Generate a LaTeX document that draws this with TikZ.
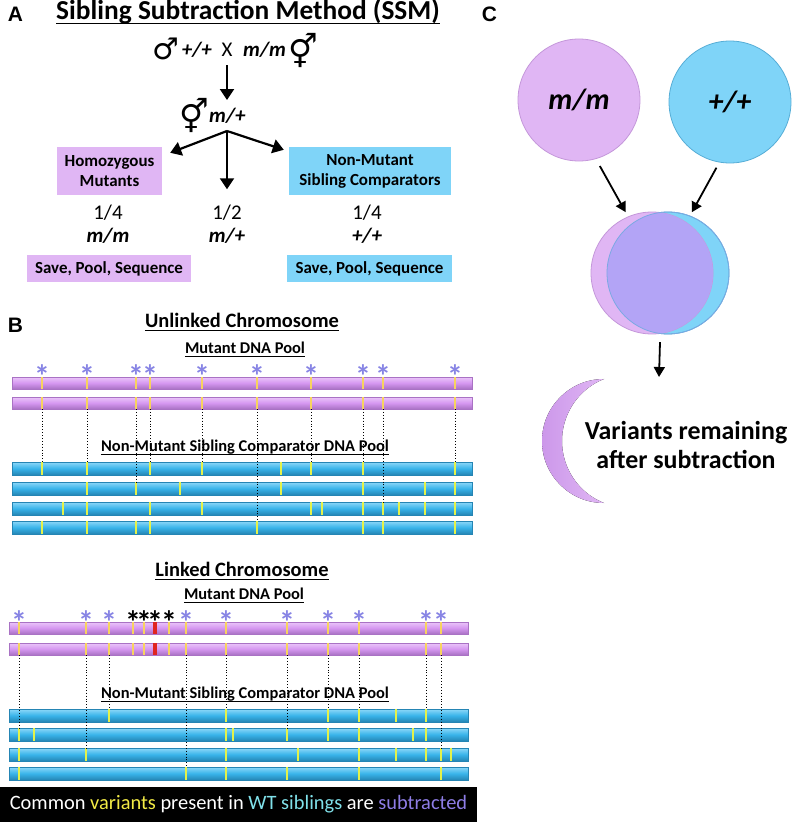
\documentclass[tikz,border=0pt]{standalone}
\usepackage{fontspec}
\setmainfont{Carlito}
\newfontfamily\labelfont{Liberation Sans}
\newfontfamily\sexfont{DejaVu Sans}
\usepackage{tikz}
\usetikzlibrary{arrows.meta,positioning}
\newcommand{\fsz}[2]{\fontsize{#1}{#2}\selectfont}

\definecolor{mutpink}{HTML}{E0B6F4}
\definecolor{mutedge}{HTML}{C497DA}
\definecolor{wtblue}{HTML}{7FD4F8}
\definecolor{wtedge}{HTML}{56ADD6}
\definecolor{barpinktop}{HTML}{EBC6FA}
\definecolor{barpink}{HTML}{D597F0}
\definecolor{barpinkbot}{HTML}{A972C4}
\definecolor{barbluetop}{HTML}{8ED8F8}
\definecolor{barblue}{HTML}{38B4EA}
\definecolor{barbluebot}{HTML}{2585B4}
\definecolor{varorange}{HTML}{F7D35E}
\definecolor{vargreen}{HTML}{E4F24A}
\definecolor{causal}{HTML}{E0251F}
\definecolor{starblue}{HTML}{8784E4}
\definecolor{overlap}{HTML}{B3A4F6}
\definecolor{crescdark}{HTML}{CC98EA}
\definecolor{bannery}{HTML}{F2EA45}
\definecolor{bannerc}{HTML}{80E1EA}
\definecolor{bannerp}{HTML}{8E7DE6}

\begin{document}
\begin{tikzpicture}[
                    x=1bp, y=-1bp,
                    panel label/.style={font=\labelfont\bfseries\fsz{21}{21}, inner sep=0},
                    head text/.style={anchor=base, inner sep=0, font=\bfseries\fsz{27.5}{27.5}},
                    sub head/.style={anchor=base, inner sep=0, font=\bfseries\fsz{20.5}{20.5}},
                    pool head/.style={anchor=base, inner sep=0, font=\bfseries\fsz{16.5}{16.5}},
                    under line/.style={line width=1.4bp},
                    gt text/.style={anchor=base, inner sep=0, font=\bfseries\itshape\fsz{21}{21}},
                    ratio text/.style={anchor=base, inner sep=0, font=\fsz{21}{21}},
                    sex sym/.style={inner sep=0, font=\sexfont\fsz{#1}{#1}},
                    mut box/.style={fill=mutpink, inner sep=0, align=center, font=\bfseries\fsz{17}{20}},
                    wt box/.style={fill=wtblue, inner sep=0, align=center, font=\bfseries\fsz{17}{20}},
                    big arrow/.style={line width=2.2bp, -{Triangle[length=11bp,width=14bp]}},
                    flow arrow/.style={line width=1.8bp, -{Triangle[length=10bp,width=11bp]}},
                    mut bar/.style={draw=barpinkbot, line width=0.5bp, top color=barpinktop,
                        bottom color=barpinkbot, middle color=barpink},
                    wt bar/.style={draw=barbluebot, line width=0.5bp, top color=barbluetop,
                        bottom color=barbluebot, middle color=barblue},
                    mut var/.style={draw=varorange, line width=1.4bp},
                    wt var/.style={draw=vargreen, line width=1.4bp},
                    causal var/.style={draw=causal, line width=4bp},
                    link line/.style={line width=0.9bp, dash pattern=on 0.9bp off 2bp},
                    star mark/.style={anchor=north, inner sep=0, text=starblue, font=\bfseries\fsz{32}{32}},
                    banner/.style={fill=black, text=white, inner sep=0, minimum width=477bp,
                        minimum height=35bp, font=\fsz{20.5}{20.5}},
                    big circle/.style={circle, minimum size=122bp, inner sep=0, line width=0.8bp,
                        font=\bfseries\itshape\fsz{30}{30}},
                    venn circle/.style={circle, minimum size=122bp, inner sep=0, line width=0.8bp}
                ]
    \useasboundingbox (0,0) rectangle (797,822);

    % A: the cross
    \node[panel label] (labA) at (15.5,14.5) {A};
    \node[head text] (ttl) at (248,20) {Sibling Subtraction Method (SSM)};
    \node[sex sym=30] (dadsym) at (166,49) {♂};
    \node[gt text, anchor=base east] (dadgt) at (212,57) {+/+};
    \node[ratio text] (crossx) at (227,57) {X};
    \node[gt text, anchor=base west] (momgt) at (243,57) {m/m};
    \node[sex sym=33] (momsym) at (303,50) {⚥};
    \coordinate (f1top) at (227,100);
    \node[sex sym=33] (f1sym) at (194,115) {⚥};
    \node[gt text, anchor=base west] (f1gt) at (209,122) {m/+};
    \coordinate (split) at (227,131);
    \node[mut box, minimum width=105bp, minimum height=48bp] (homo) at (109.5,171) {Homozygous\\Mutants};
    \node[wt box, minimum width=162bp, minimum height=48bp] (nonmut) at (370,171) {Non-Mutant\\Sibling Comparators};
    \node[ratio text] (qmut) at (108,219) {1/4};
    \node[ratio text] (qhet) at (227,219) {1/2};
    \node[ratio text] (qwt) at (367,219) {1/4};
    \node[gt text] (gmut) at (108,242) {m/m};
    \node[gt text] (ghet) at (227,242) {m/+};
    \node[gt text] (gwt) at (367,242) {+/+};
    \node[mut box, minimum width=164bp, minimum height=27bp] (savemut) at (109,268.5) {Save, Pool, Sequence};
    \node[wt box, minimum width=165bp, minimum height=27bp] (savewt) at (369.5,268.5) {Save, Pool, Sequence};
    \draw[big arrow, shorten <=8bp] (crossx.south) -- (f1top);
    \draw[big arrow] (split) -- ([xshift=8bp,yshift=-6bp]homo.north east);
    \draw[big arrow] (split) -- ([xshift=-5bp,yshift=-3bp]nonmut.north west);
    \draw[big arrow, shorten >=15bp] (split) -- (qhet.north);

    % B: unlinked chromosome
    \node[panel label] (labB) at (15.5,325.5) {B};
    \node[sub head] (unl) at (242,327) {Unlinked Chromosome};
    \node[pool head] (unlmut) at (245,353) {Mutant DNA Pool};
    \node[pool head] (unlwt) at (245,451) {Non-Mutant Sibling Comparator DNA Pool};
    \foreach \y in {377,397} {
        \path[mut bar] (12,\y) rectangle (472,\y+12);
        \foreach \x in {42,87,136,150,202,257,311,363,383,455}
            \draw[mut var] (\x,\y) -- (\x,\y+12);
    }
    \foreach \x in {42,87,136,150,202,257,311,363,383,455}
        \node[star mark] (us\x) at (\x,364) {*};
    \foreach \y/\vars in {462/{42,87,150,202,281,311,363,455},
                          482/{87,136,180,281,363,425,455},
                          502/{63,87,150,202,311,322,363,383,399,425,455},
                          521/{42,87,136,150,257,363,383,455}} {
        \path[wt bar] (12,\y) rectangle (472,\y+13);
        \foreach \x in \vars
            \draw[wt var] (\x,\y) -- (\x,\y+13);
    }
    \foreach \x/\t in {42/462,87/462,136/482,150/462,202/462,257/521,311/462,363/462,383/502,455/462}
        \draw[link line] (\x,409) -- (\x,\t);

    % B: linked chromosome
    \node[sub head] (lnk) at (242,576) {Linked Chromosome};
    \node[pool head] (lnkmut) at (244,599) {Mutant DNA Pool};
    \node[pool head] (lnkwt) at (245,698) {Non-Mutant Sibling Comparator DNA Pool};
    \foreach \y in {622,643} {
        \path[mut bar] (9,\y) rectangle (468,\y+12);
        \foreach \x in {19,86,109,133,144,169,186,226,287,328,359,426,441}
            \draw[mut var] (\x,\y) -- (\x,\y+12);
        \draw[causal var] (155,\y) -- (155,\y+12);
    }
    \foreach \x in {19,86,109,186,226,287,328,359,426,441}
        \node[star mark] (ls\x) at (\x,610) {*};
    \foreach \x in {133,144,155,169}
        \node[star mark, text=black] (lc\x) at (\x,610) {*};
    \foreach \y/\vars in {709/{109,226,328,359,396,426},
                          728/{19,34,226,233,287,328,359,413,426},
                          748/{19,86,226,298,359,396,426,441,451},
                          767/{19,186,226,287,359,441}} {
        \path[wt bar] (9,\y) rectangle (468,\y+13);
        \foreach \x in \vars
            \draw[wt var] (\x,\y) -- (\x,\y+13);
    }
    \foreach \x/\t in {19/728,86/748,109/709,186/767,226/709,287/728,328/709,359/709,426/709,441/748}
        \draw[link line] (\x,655) -- (\x,\t);

    \foreach \n in {ttl,unl,unlmut,unlwt,lnk,lnkmut,lnkwt}
        \draw[under line] ([yshift=-3.5bp]\n.base west) -- ([yshift=-3.5bp]\n.base east);

    \node[banner] (bann) at (238.5,804.5) {Common \textcolor{bannery}{variants} present in
        \textcolor{bannerc}{WT siblings} are \textcolor{bannerp}{subtracted}};

    % C: subtraction
    \node[panel label] (labC) at (489.5,14.5) {C};
    \node[big circle, fill=mutpink, draw=mutedge] (mm) at (579,100) {m/m};
    \node[big circle, fill=wtblue, draw=wtedge] (pp) at (730,102) {+/+};
    \node[venn circle, fill=wtblue, draw=wtedge] (vennr) at (668,273) {};
    \node[venn circle, fill=mutpink, draw=mutedge] (vennl) at (652,273) {};
    \begin{scope}
        \clip (668,273) circle (61);
        \fill[overlap] (652,273) circle (61);
    \end{scope}
    \draw[wtedge!60!overlap, line width=0.8bp] (668,273) circle (61);
    \node[circle, minimum size=138bp, inner sep=0] (venn) at (660,273) {};
    \draw[flow arrow, shorten <=8bp, shorten >=5bp] (mm.-74) -- (vennl.113);
    \draw[flow arrow, shorten <=6bp, shorten >=4bp] (pp.-100) -- (vennr.69);
    \coordinate (restop) at (659,377);
    \draw[flow arrow] (venn.south) -- (restop);
    \fill[left color=crescdark, right color=mutpink]
        (604,379) arc[start angle=270, end angle=90, radius=62]
        arc[start angle=111.8, end angle=248.2, radius=66.8] -- cycle;
    \node[align=center, inner sep=0, font=\bfseries\fsz{26}{30}] (remain) at (686,445) {Variants remaining\\after subtraction};
\end{tikzpicture}
\end{document}
